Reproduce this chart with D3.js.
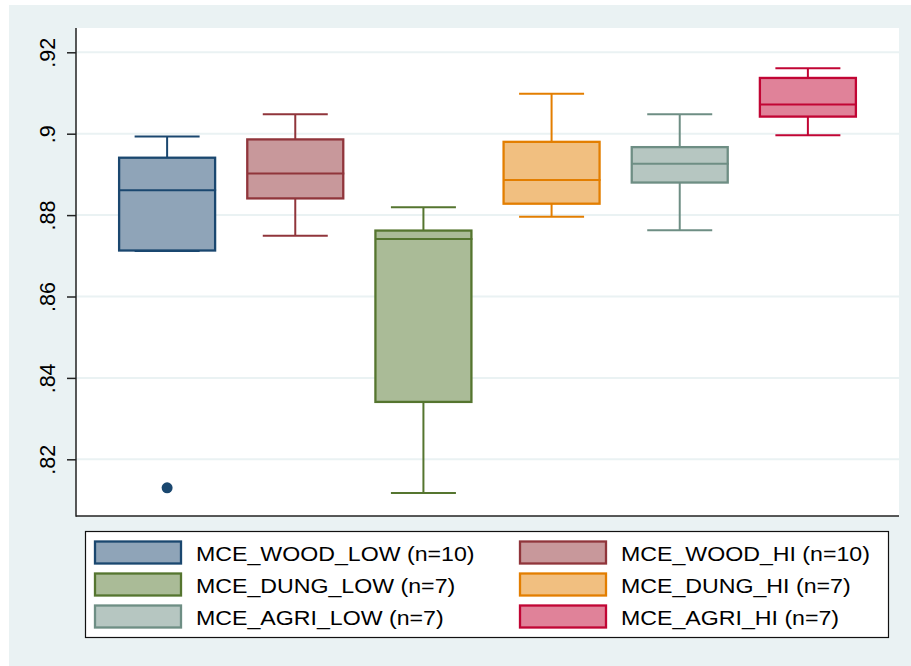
<!DOCTYPE html>
<html>
<head>
<meta charset="utf-8">
<script src="https://cdn.jsdelivr.net/npm/d3@7/dist/d3.min.js"></script>
<style>
  html, body { margin: 0; padding: 0; background: #ffffff; }
  svg { display: block; }
  text { font-family: "Liberation Sans", Arial, Helvetica, sans-serif; fill: #000; }
</style>
</head>
<body>
<script>
// Box-plot summary of modified combustion efficiency (MCE) by fuel and burn condition
const categories = ["MCE_WOOD_LOW", "MCE_WOOD_HI", "MCE_DUNG_LOW", "MCE_DUNG_HI", "MCE_AGRI_LOW", "MCE_AGRI_HI"];
const counts = [10, 10, 7, 7, 7, 7];
const lowerWhisker = [0.8712, 0.8749, 0.8117, 0.8796, 0.8763, 0.8996];
const q1           = [0.8713, 0.8841, 0.8341, 0.8828, 0.8880, 0.9042];
const median       = [0.8861, 0.8902, 0.8741, 0.8886, 0.8926, 0.9072];
const q3           = [0.8941, 0.8986, 0.8762, 0.8980, 0.8967, 0.9137];
const upperWhisker = [0.8993, 0.9048, 0.8819, 0.9098, 0.9048, 0.9161];
const outliers     = [[0.8130], [], [], [], [], []];
const yTicks = [0.82, 0.84, 0.86, 0.88, 0.90, 0.92];
const yTickLabels = [".82", ".84", ".86", ".88", ".9", ".92"];

const lineColors = ["#1a476f", "#90353b", "#55752f", "#e37e00", "#6e8e84", "#c10534"];
const fillColors = ["#8fa4b8", "#c8989b", "#aabb97", "#f1bf80", "#b6c6c1", "#e08299"];

const W = 911, H = 666;
const plot = { left: 76, right: 899, top: 28, bottom: 516 };

const svg = d3.select("body").append("svg").attr("width", W).attr("height", H);

// graph region background
svg.append("rect").attr("x", 9).attr("y", 5).attr("width", W - 9).attr("height", H - 5)
  .attr("fill", "#eaf2f3");
// plot region
svg.append("rect").attr("x", plot.left).attr("y", plot.top)
  .attr("width", plot.right - plot.left).attr("height", plot.bottom - plot.top)
  .attr("fill", "#ffffff");

const x = d3.scalePoint().domain(categories).range([plot.left, plot.right]).padding(0.711);
const y = d3.scaleLinear().domain([0.80607, 0.92597]).range([plot.bottom, plot.top]);

// horizontal grid lines
svg.append("g").selectAll("line").data(yTicks).join("line")
  .attr("x1", plot.left).attr("x2", plot.right)
  .attr("y1", d => y(d)).attr("y2", d => y(d))
  .attr("stroke", "#eaf2f3").attr("stroke-width", 2);

// y axis
const yAxis = d3.axisLeft(y).tickValues(yTicks)
  .tickFormat((d, i) => yTickLabels[i]).tickSize(9).tickSizeOuter(0);
const gy = svg.append("g").attr("transform", `translate(${plot.left},0)`).call(yAxis);
gy.select(".domain").remove();
gy.selectAll(".tick line").attr("stroke", "#222").attr("stroke-width", 1.5);
gy.selectAll(".tick text")
  .attr("font-size", "21.5px")
  .attr("text-anchor", "middle")
  .attr("x", null).attr("dy", null)
  .attr("transform", "translate(-21,0) rotate(-90)")
  .attr("y", 0);

// axis lines (left and bottom)
svg.append("line").attr("x1", plot.left).attr("x2", plot.left)
  .attr("y1", plot.top).attr("y2", plot.bottom + 0.75)
  .attr("stroke", "#222").attr("stroke-width", 1.5);
svg.append("line").attr("x1", plot.left).attr("x2", plot.right)
  .attr("y1", plot.bottom).attr("y2", plot.bottom)
  .attr("stroke", "#222").attr("stroke-width", 1.5);

// boxes
const boxW = 96, capW = 65;
const boxes = svg.append("g").selectAll("g").data(categories).join("g");
boxes.each(function (c, i) {
  const g = d3.select(this);
  const cx = x(c);
  const col = lineColors[i];
  // whiskers
  g.append("line").attr("x1", cx).attr("x2", cx)
    .attr("y1", y(upperWhisker[i])).attr("y2", y(q3[i]))
    .attr("stroke", col).attr("stroke-width", 2);
  g.append("line").attr("x1", cx).attr("x2", cx)
    .attr("y1", y(q1[i])).attr("y2", y(lowerWhisker[i]))
    .attr("stroke", col).attr("stroke-width", 2);
  [upperWhisker[i], lowerWhisker[i]].forEach(v => {
    g.append("line").attr("x1", cx - capW / 2).attr("x2", cx + capW / 2)
      .attr("y1", y(v)).attr("y2", y(v))
      .attr("stroke", col).attr("stroke-width", 2);
  });
  // interquartile box
  g.append("rect").attr("x", cx - boxW / 2).attr("y", y(q3[i]))
    .attr("width", boxW).attr("height", y(q1[i]) - y(q3[i]))
    .attr("fill", fillColors[i]).attr("stroke", col).attr("stroke-width", 2.3);
  // median
  g.append("line").attr("x1", cx - boxW / 2).attr("x2", cx + boxW / 2 + 1)
    .attr("y1", y(median[i])).attr("y2", y(median[i]))
    .attr("stroke", col).attr("stroke-width", 2);
  // outside values
  g.selectAll("circle").data(outliers[i]).join("circle")
    .attr("cx", cx).attr("cy", d => y(d)).attr("r", 5.5)
    .attr("fill", col);
});

// legend
const legend = svg.append("g");
legend.append("rect").attr("x", 85.5).attr("y", 531.5).attr("width", 803).attr("height", 106)
  .attr("fill", "#ffffff").attr("stroke", "#111").attr("stroke-width", 1.2);

const colX = [95, 520];
const rowY = [541.5, 573.5, 605.5];
categories.forEach((c, i) => {
  const col = i % 2, row = Math.floor(i / 2);
  legend.append("rect")
    .attr("x", colX[col]).attr("y", rowY[row]).attr("width", 86).attr("height", 22)
    .attr("fill", fillColors[i]).attr("stroke", lineColors[i]).attr("stroke-width", 2.3);
  const tx = colX[col] + 101;
  legend.append("text")
    .attr("transform", `translate(${tx},${rowY[row] + 19.5}) scale(1.13,1)`)
    .attr("font-size", "20.5px")
    .text(`${c} (n=${counts[i]})`);
});
</script>
</body>
</html>
